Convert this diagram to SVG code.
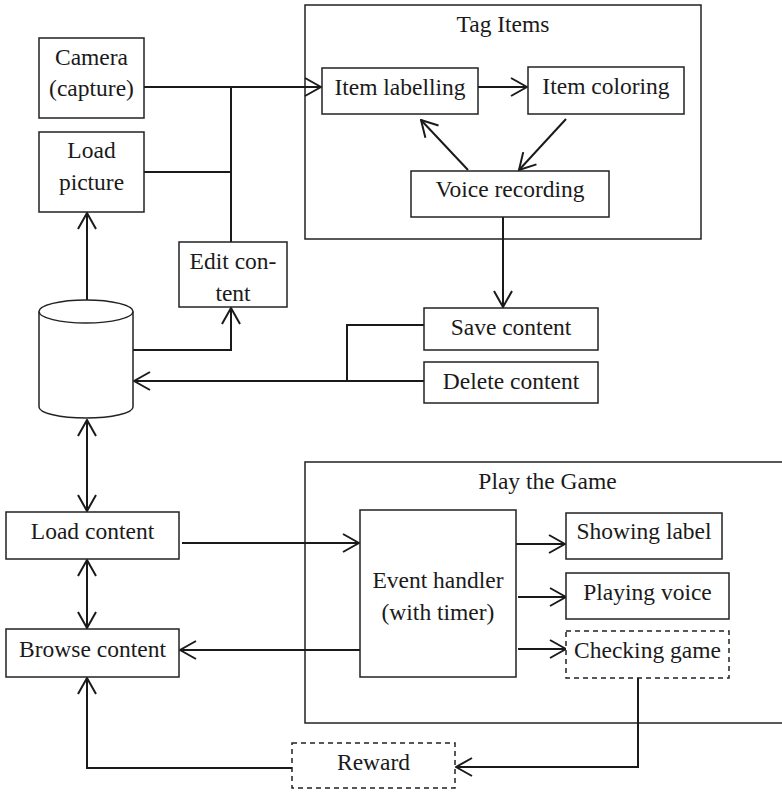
<svg xmlns="http://www.w3.org/2000/svg" width="782" height="792" viewBox="0 0 782 792">
<style>
text{font-family:"Liberation Serif","Times New Roman",serif;font-size:23.5px;fill:#1a1a1a;text-anchor:middle}
.box{fill:#fff;stroke:#222;stroke-width:1.5}
.dash{fill:#fff;stroke:#222;stroke-width:1.5;stroke-dasharray:5 4}
.frame{fill:none;stroke:#222;stroke-width:1.5}
.c{fill:none;stroke:#1a1a1a;stroke-width:2}
</style>
<defs>
<marker id="a" viewBox="0 0 18 20" refX="17" refY="10" markerWidth="18" markerHeight="20" markerUnits="userSpaceOnUse" orient="auto-start-reverse">
<path d="M1,1 L17,10 L1,19" fill="none" stroke="#1a1a1a" stroke-width="2"/>
</marker>
</defs>
<rect width="782" height="792" fill="#fff"/>
<g id="tag-items">
<rect class="frame" x="305" y="5" width="396" height="234"/>
<text x="503" y="32">Tag Items</text>
</g>
<g id="play-game">
<rect class="frame" x="305" y="462" width="490" height="261"/>
<text x="547.5" y="489">Play the Game</text>
</g>
<g id="connectors">
<path class="c" d="M144,87 H321" marker-end="url(#a)"/>
<path class="c" d="M144,172 H231"/>
<path class="c" d="M231,87 V242"/>
<path class="c" d="M478,87 H527" marker-end="url(#a)"/>
<path class="c" d="M566,119 L519,170" marker-end="url(#a)"/>
<path class="c" d="M468,170 L421,120" marker-end="url(#a)"/>
<path class="c" d="M503,217 V307" marker-end="url(#a)"/>
<path class="c" d="M87,300 V213" marker-end="url(#a)"/>
<path class="c" d="M133,350 H231 V308" marker-end="url(#a)"/>
<path class="c" d="M424,325 H347 V381"/>
<path class="c" d="M424,381 H134" marker-end="url(#a)"/>
<path class="c" d="M87,420 V511" marker-start="url(#a)" marker-end="url(#a)"/>
<path class="c" d="M87,560 V628" marker-start="url(#a)" marker-end="url(#a)"/>
<path class="c" d="M182,543 H359" marker-end="url(#a)"/>
<path class="c" d="M360,650 H180" marker-end="url(#a)"/>
<path class="c" d="M516,544 H565" marker-end="url(#a)"/>
<path class="c" d="M518,597 H566" marker-end="url(#a)"/>
<path class="c" d="M518,649 H566" marker-end="url(#a)"/>
<path class="c" d="M638,678 V767 H456" marker-end="url(#a)"/>
<path class="c" d="M292,768 H87 V678" marker-end="url(#a)"/>
</g>
<g id="camera">
<rect class="box" x="39" y="38" width="105" height="80"/>
<text x="91.5" y="65">Camera</text>
<text x="91.5" y="96">(capture)</text>
</g>
<g id="load-picture">
<rect class="box" x="39" y="132" width="105" height="80"/>
<text x="91.5" y="158">Load</text>
<text x="91.5" y="190">picture</text>
</g>
<g id="edit-content">
<rect class="box" x="179" y="242" width="108" height="65"/>
<text x="233" y="269">Edit con-</text>
<text x="233" y="301">tent</text>
</g>
<g id="item-labelling">
<rect class="box" x="322" y="68" width="156" height="46"/>
<text x="400" y="95">Item labelling</text>
</g>
<g id="item-coloring">
<rect class="box" x="528" y="67" width="156" height="47"/>
<text x="606" y="94">Item coloring</text>
</g>
<g id="voice-recording">
<rect class="box" x="411" y="171" width="198" height="46"/>
<text x="510" y="197">Voice recording</text>
</g>
<g id="save-content">
<rect class="box" x="424" y="308" width="174" height="42"/>
<text x="511" y="335">Save content</text>
</g>
<g id="delete-content">
<rect class="box" x="424" y="362" width="174" height="41"/>
<text x="511" y="389">Delete content</text>
</g>
<g id="database">
<path class="box" d="M39,311.5 V407 A47,11 0 0 0 133,407 V311.5"/>
<ellipse class="box" cx="86" cy="311.5" rx="47" ry="11.5"/>
</g>
<g id="load-content">
<rect class="box" x="6" y="512" width="173" height="47"/>
<text x="92.5" y="539">Load content</text>
</g>
<g id="browse-content">
<rect class="box" x="6" y="629" width="173" height="48"/>
<text x="92.5" y="657">Browse content</text>
</g>
<g id="event-handler">
<rect class="box" x="360" y="510" width="156" height="167"/>
<text x="438" y="588">Event handler</text>
<text x="438" y="620">(with timer)</text>
</g>
<g id="showing-label">
<rect class="box" x="566" y="513" width="156" height="46"/>
<text x="644" y="539">Showing label</text>
</g>
<g id="playing-voice">
<rect class="box" x="566" y="573" width="163" height="46"/>
<text x="647.5" y="600">Playing voice</text>
</g>
<g id="checking-game">
<rect class="dash" x="566" y="631" width="163" height="47"/>
<text x="647.5" y="658">Checking game</text>
</g>
<g id="reward">
<rect class="dash" x="292" y="743" width="163" height="45"/>
<text x="373.5" y="770">Reward</text>
</g>
</svg>
